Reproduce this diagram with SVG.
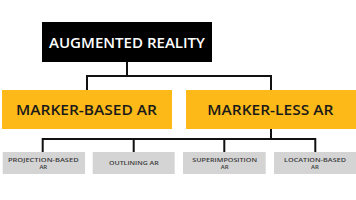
<svg xmlns="http://www.w3.org/2000/svg" width="356" height="200" viewBox="0 0 356 200">
<style>
.t{font-family:"Open Sans","Liberation Sans",sans-serif;text-anchor:middle}
.big{font-size:14px;font-weight:600}
.mid{font-size:13.5px;font-weight:600;fill:#1a1a1a}
.sm{font-size:6px;font-weight:600;fill:#3a3a3a}
.yel{fill:#fcb918}
.gry{fill:#d4d4d4}
.ln{stroke:#111;stroke-width:2;fill:none}
</style>
<rect width="356" height="200" fill="#fff"/>
<g id="connectors">
<path class="ln" d="M127,62V76M87,76H271M87,75V90M271,75V90"/>
<path class="ln" d="M271,129V139M42.7,139H315.3M42.7,138V152M133.7,138V152M224.3,138V152M315.3,138V152"/>
</g>
<g id="n-ar">
<rect x="42" y="22" width="170" height="40" fill="#000"/>
<text class="t big" x="127" y="47.5" fill="#fff" textLength="156" lengthAdjust="spacingAndGlyphs">AUGMENTED REALITY</text>
</g>
<g id="n-marker">
<rect class="yel" x="2" y="90" width="170" height="39"/>
<text class="t mid" x="86.5" y="115.3" textLength="141" lengthAdjust="spacingAndGlyphs">MARKER-BASED AR</text>
</g>
<g id="n-markerless">
<rect class="yel" x="186" y="90" width="170" height="39"/>
<text class="t mid" x="270.3" y="115.3" textLength="126" lengthAdjust="spacingAndGlyphs">MARKER-LESS AR</text>
</g>
<g id="n-proj">
<rect class="gry" x="2.7" y="152" width="82.3" height="22"/>
<text class="t sm" x="43.3" y="161.8" textLength="70.7" lengthAdjust="spacingAndGlyphs">PROJECTION-BASED</text>
<text class="t sm" x="43.3" y="168.9">AR</text>
</g>
<g id="n-outline">
<rect class="gry" x="92.7" y="152" width="82" height="22"/>
<text class="t sm" x="133.8" y="165.3" textLength="49.7" lengthAdjust="spacingAndGlyphs">OUTLINING AR</text>
</g>
<g id="n-super">
<rect class="gry" x="183" y="152" width="82.7" height="22"/>
<text class="t sm" x="224.7" y="161.8" textLength="64.7" lengthAdjust="spacingAndGlyphs">SUPERIMPOSITION</text>
<text class="t sm" x="224.7" y="168.9">AR</text>
</g>
<g id="n-loc">
<rect class="gry" x="274" y="152" width="82" height="22"/>
<text class="t sm" x="315" y="161.8" textLength="62" lengthAdjust="spacingAndGlyphs">LOCATION-BASED</text>
<text class="t sm" x="315" y="168.9">AR</text>
</g>
</svg>
